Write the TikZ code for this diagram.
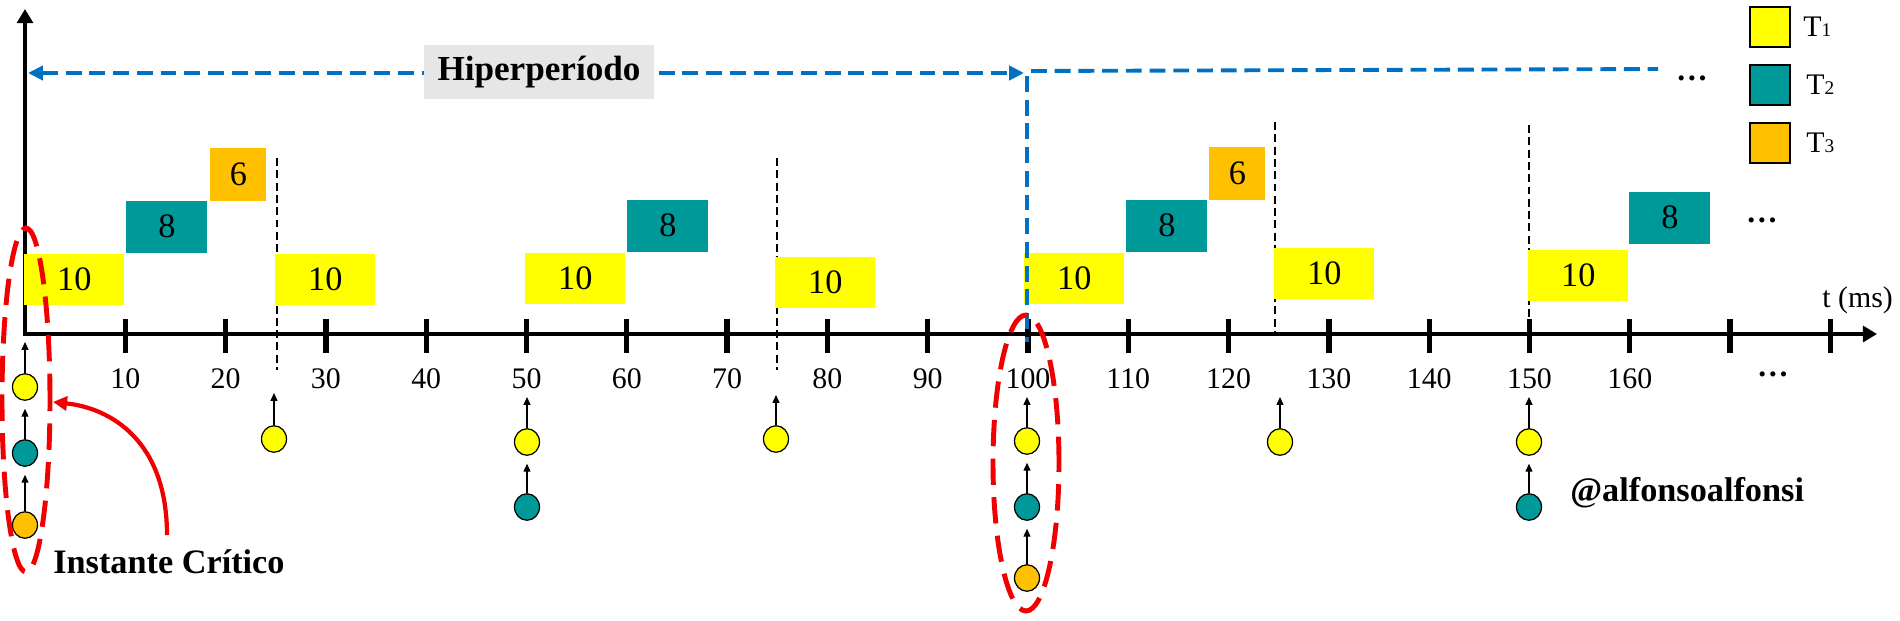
\documentclass[tikz,border=0pt]{standalone}
\usepackage{fontspec}
\setmainfont{Liberation Serif}
\usetikzlibrary{arrows.meta,positioning,shapes.geometric}
\definecolor{tyellow}{RGB}{255,255,0}
\definecolor{tteal}{RGB}{0,153,153}
\definecolor{torange}{RGB}{255,192,0}
\definecolor{hblue}{RGB}{0,112,192}
\definecolor{hgray}{RGB}{231,230,230}
\definecolor{cred}{RGB}{240,0,0}

\begin{document}
\begin{tikzpicture}[x=0.02cm, y=-0.02cm,
  job/.style={rectangle, inner sep=0pt, anchor=south west,
              font=\fontsize{19.5}{21}\selectfont},
  jobA/.style={job, fill=tyellow, minimum width=2cm, minimum height=1.02cm},
  jobB/.style={job, fill=tteal, minimum width=1.62cm, minimum height=1.04cm},
  jobC/.style={job, fill=torange, minimum width=1.12cm, minimum height=1.06cm},
  rel/.style={ellipse, draw=black, line width=0.7pt, inner sep=0pt,
              minimum width=0.5cm, minimum height=0.53cm},
  rarr/.style={-{Triangle[length=4.5pt,width=4pt]}, line width=0.6pt},
  axis/.style={line width=2.6pt, -{Triangle[length=8pt,width=9pt]}},
  tick/.style={line width=3pt},
  tlab/.style={font=\fontsize{17}{19}\selectfont, inner sep=0pt},
  dl/.style={line width=0.9pt, dash pattern=on 4.5pt off 2.5pt},
  hyp/.style={draw=hblue, line width=2.2pt, dash pattern=on 9pt off 4.5pt},
  crit/.style={draw=cred, line width=2.8pt, dash pattern=on 15pt off 7pt},
  leg/.style={rectangle, draw=black, line width=1.2pt, minimum size=0.8cm, inner sep=0pt},
  legl/.style={font=\fontsize{17}{19}\selectfont, inner sep=0pt},
  dots/.style={font=\bfseries\fontsize{18}{19}\selectfont, anchor=base, inner sep=0pt},
  note/.style={anchor=west, inner sep=0pt, font=\bfseries\fontsize{19.5}{21}\selectfont}
]
\useasboundingbox (0,0) rectangle (1900,620);

% Axes
\coordinate (o) at (25,334);
\draw[axis] (25,336) -- (25,9);
\draw[axis] (23.7,334) -- (1877,334);
\foreach \t in {10,20,...,180}
  \draw[tick] ({25+10.03*\t},319) -- ++(0,34);
\foreach \t in {10,20,...,160}
  \node[tlab] (l\t) at ({25+10.03*\t},379) {\t};
\node[dots] (d3) at (1773,376) {…};
\node[tlab, anchor=west] (tms) at (1822,300) {t (ms)};

% Deadlines
\draw[dl] (277,158) -- (277,370);
\draw[dl] (777,158) -- (777,370);
\draw[dl] (1275,122) -- (1275,333);
\draw[dl] (1529,125) -- (1529,333);

% Jobs
\node[jobA] (t1a) at (24,305) {10};
\node[jobB] (t2a) at (126,253) {8};
\node[jobC] (t3a) at (210,201) {6};
\node[jobA] (t1b) at (275,305) {10};
\node[jobA] (t1c) at (525,304) {10};
\node[jobB] (t2b) at (627,252) {8};
\node[jobA] (t1d) at (775,308) {10};
\node[jobA] (t1e) at (1024,304) {10};
\node[jobB] (t2c) at (1126,252) {8};
\node[jobC] (t3b) at (1209,200) {6};
\node[jobA] (t1f) at (1274,299) {10};
\node[jobA] (t1g) at (1528,301) {10};
\node[jobB] (t2d) at (1629,244) {8};
\node[dots] (d2) at (1762,222) {…};

% Hyperperiod
\coordinate (h0) at (28,73);
\coordinate (h1) at (1024,73);
\draw[hyp, {Triangle[length=8.5pt,width=8pt]}-{Triangle[length=8.5pt,width=8pt]}] (h0) -- (h1);
\draw[hyp] (1031,71) -- (1658,69);
\draw[hyp] (1027,76) -- (1027,342);
\node[fill=hgray, minimum width=4.6cm, minimum height=1.08cm,
      font=\bfseries\fontsize{20}{22}\selectfont] (hp) at (539,72) {Hiperperíodo};
\node[dots] (d1) at (1692,80) {…};

% Releases
\node[rel, fill=tyellow] (r0a) at (25,387) {};
\node[rel, fill=tteal]   (r0b) at (25,453) {};
\node[rel, fill=torange] (r0c) at (25,525) {};
\node[rel, fill=tyellow] (r25a) at (274,439) {};
\node[rel, fill=tyellow] (r50a) at (527,442) {};
\node[rel, fill=tteal]   (r50b) at (527,507) {};
\node[rel, fill=tyellow] (r75a) at (776,439) {};
\node[rel, fill=tyellow] (r100a) at (1027,441) {};
\node[rel, fill=tteal]   (r100b) at (1027,507) {};
\node[rel, fill=torange] (r100c) at (1027,578) {};
\node[rel, fill=tyellow] (r125a) at (1280,442) {};
\node[rel, fill=tyellow] (r150a) at (1529,442) {};
\node[rel, fill=tteal]   (r150b) at (1529,507) {};

\coordinate (a0) at (25,342);
\coordinate (a25) at (274,393);
\coordinate (a50) at (527,397);
\coordinate (a75) at (776,395);
\coordinate (a100) at (1027,397);
\coordinate (a125) at (1280,397);
\coordinate (a150) at (1529,397);

\draw[rarr] (r0a) -- (a0);
\draw[rarr, shorten >=4.5pt] (r0b) -- (r0a);
\draw[rarr, shorten >=4.5pt] (r0c) -- (r0b);
\draw[rarr] (r25a) -- (a25);
\draw[rarr] (r50a) -- (a50);
\draw[rarr, shorten >=4.5pt] (r50b) -- (r50a);
\draw[rarr] (r75a) -- (a75);
\draw[rarr] (r100a) -- (a100);
\draw[rarr, shorten >=4.5pt] (r100b) -- (r100a);
\draw[rarr, shorten >=4.5pt] (r100c) -- (r100b);
\draw[rarr] (r125a) -- (a125);
\draw[rarr] (r150a) -- (a150);
\draw[rarr, shorten >=4.5pt] (r150b) -- (r150a);

% Critical instants
\draw[crit] (26,400) ellipse [x radius=0.48cm, y radius=3.44cm];
\draw[crit] (1026,463) ellipse [x radius=0.66cm, y radius=2.96cm];
\coordinate (ic) at (167,535);
\coordinate (ie) at (53,402);
\draw[draw=cred, line width=2.4pt, -{Triangle[length=8pt,width=8pt]}]
  (ic) .. controls (167,440) and (110,408) .. (ie);
\node[note] (inst) at (53,562) {Instante Crítico};
\node[note] (sig) at (1570,493) {@alfonsoalfonsi};

% Legend
\node[leg, fill=tyellow] (k1) at (1770,27) {};
\node[leg, fill=tteal]   (k2) at (1770,85) {};
\node[leg, fill=torange] (k3) at (1770,143) {};
\node[legl, right=0.24cm of k1] (k1l) {T{\fontsize{11}{12}\selectfont 1}};
\node[legl, right=0.3cm of k2] (k2l) {T{\fontsize{11}{12}\selectfont 2}};
\node[legl, right=0.3cm of k3] (k3l) {T{\fontsize{11}{12}\selectfont 3}};
\end{tikzpicture}
\end{document}
